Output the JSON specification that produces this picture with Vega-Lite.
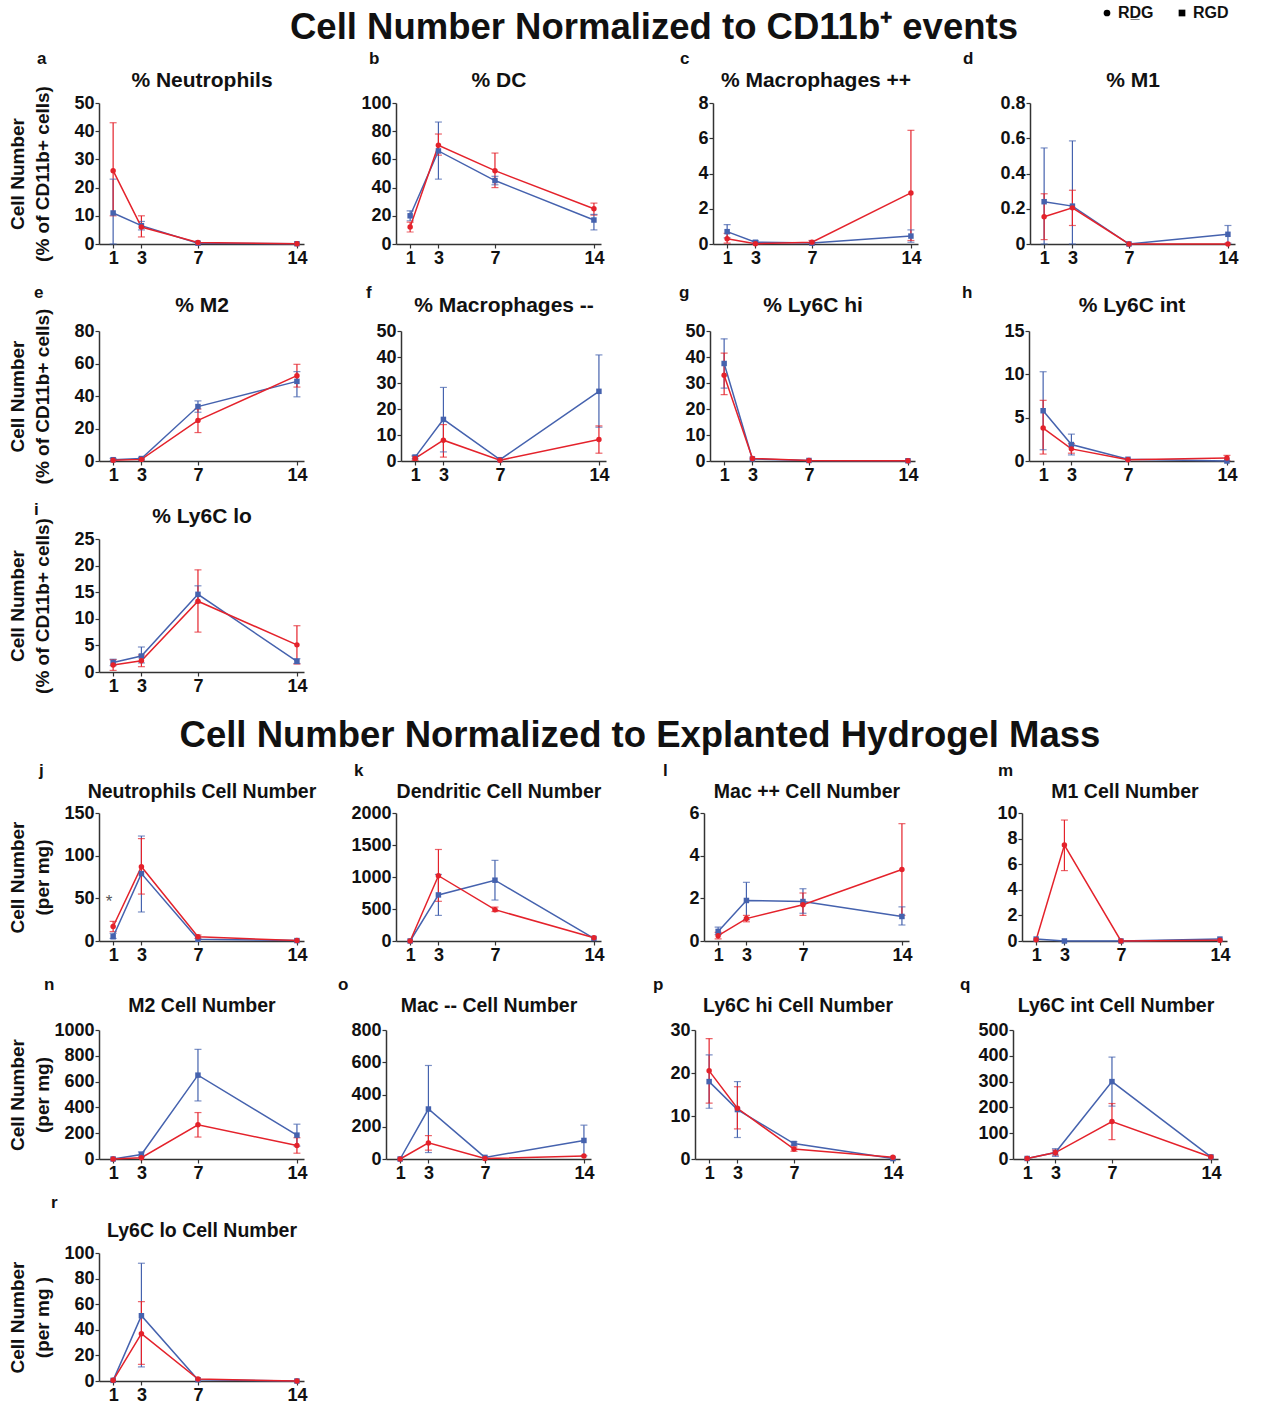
{
"$schema": "https://vega.github.io/schema/vega-lite/v6.json",
"background": "white",
"padding": {"left": 8, "top": 5, "right": 5, "bottom": 0},
"datasets": {"cells": [
{"panel":"a","group":"RGD","day":1,"mean":11,"lo":0,"hi":23},
{"panel":"a","group":"RGD","day":3,"mean":6.5,"lo":5,"hi":8},
{"panel":"a","group":"RGD","day":7,"mean":0.3,"lo":null,"hi":null},
{"panel":"a","group":"RGD","day":14,"mean":0.1,"lo":null,"hi":null},
{"panel":"a","group":"RDG","day":1,"mean":26,"lo":10,"hi":43},
{"panel":"a","group":"RDG","day":3,"mean":6,"lo":2.5,"hi":10},
{"panel":"a","group":"RDG","day":7,"mean":0.5,"lo":null,"hi":null},
{"panel":"a","group":"RDG","day":14,"mean":0.1,"lo":null,"hi":null},
{"panel":"b","group":"RGD","day":1,"mean":20,"lo":16.5,"hi":23.5},
{"panel":"b","group":"RGD","day":3,"mean":66,"lo":46,"hi":86.5},
{"panel":"b","group":"RGD","day":7,"mean":45,"lo":42,"hi":48},
{"panel":"b","group":"RGD","day":14,"mean":17,"lo":10,"hi":21},
{"panel":"b","group":"RDG","day":1,"mean":12,"lo":8.5,"hi":15.5},
{"panel":"b","group":"RDG","day":3,"mean":70,"lo":63,"hi":78},
{"panel":"b","group":"RDG","day":7,"mean":52,"lo":40,"hi":64.5},
{"panel":"b","group":"RDG","day":14,"mean":25,"lo":20.5,"hi":29},
{"panel":"c","group":"RGD","day":1,"mean":0.7,"lo":0.35,"hi":1.1},
{"panel":"c","group":"RGD","day":3,"mean":0.1,"lo":0.02,"hi":0.18},
{"panel":"c","group":"RGD","day":7,"mean":0.05,"lo":null,"hi":null},
{"panel":"c","group":"RGD","day":14,"mean":0.45,"lo":0.1,"hi":0.8},
{"panel":"c","group":"RDG","day":1,"mean":0.3,"lo":0.05,"hi":0.6},
{"panel":"c","group":"RDG","day":3,"mean":0.02,"lo":null,"hi":null},
{"panel":"c","group":"RDG","day":7,"mean":0.1,"lo":0.02,"hi":0.2},
{"panel":"c","group":"RDG","day":14,"mean":2.9,"lo":0.2,"hi":6.45},
{"panel":"d","group":"RGD","day":1,"mean":0.24,"lo":0,"hi":0.545},
{"panel":"d","group":"RGD","day":3,"mean":0.215,"lo":0,"hi":0.585},
{"panel":"d","group":"RGD","day":7,"mean":0,"lo":null,"hi":null},
{"panel":"d","group":"RGD","day":14,"mean":0.055,"lo":0.005,"hi":0.105},
{"panel":"d","group":"RDG","day":1,"mean":0.155,"lo":0.025,"hi":0.285},
{"panel":"d","group":"RDG","day":3,"mean":0.205,"lo":0.105,"hi":0.305},
{"panel":"d","group":"RDG","day":7,"mean":0,"lo":null,"hi":null},
{"panel":"d","group":"RDG","day":14,"mean":0,"lo":null,"hi":null},
{"panel":"e","group":"RGD","day":1,"mean":0.8,"lo":0.2,"hi":1.6},
{"panel":"e","group":"RGD","day":3,"mean":1.5,"lo":0.8,"hi":2.2},
{"panel":"e","group":"RGD","day":7,"mean":33.5,"lo":30,"hi":37},
{"panel":"e","group":"RGD","day":14,"mean":49,"lo":39.5,"hi":55},
{"panel":"e","group":"RDG","day":1,"mean":0.5,"lo":null,"hi":null},
{"panel":"e","group":"RDG","day":3,"mean":1,"lo":0.5,"hi":1.5},
{"panel":"e","group":"RDG","day":7,"mean":25,"lo":17.5,"hi":32},
{"panel":"e","group":"RDG","day":14,"mean":52.5,"lo":45.5,"hi":59.5},
{"panel":"f","group":"RGD","day":1,"mean":1.5,"lo":0.8,"hi":2.2},
{"panel":"f","group":"RGD","day":3,"mean":16,"lo":3.5,"hi":28.3},
{"panel":"f","group":"RGD","day":7,"mean":0.5,"lo":null,"hi":null},
{"panel":"f","group":"RGD","day":14,"mean":26.8,"lo":13,"hi":40.8},
{"panel":"f","group":"RDG","day":1,"mean":1,"lo":0.2,"hi":1.8},
{"panel":"f","group":"RDG","day":3,"mean":8,"lo":1.5,"hi":14},
{"panel":"f","group":"RDG","day":7,"mean":0.3,"lo":null,"hi":null},
{"panel":"f","group":"RDG","day":14,"mean":8.3,"lo":3,"hi":13.5},
{"panel":"g","group":"RGD","day":1,"mean":37.5,"lo":28,"hi":47},
{"panel":"g","group":"RGD","day":3,"mean":0.8,"lo":null,"hi":null},
{"panel":"g","group":"RGD","day":7,"mean":0.2,"lo":null,"hi":null},
{"panel":"g","group":"RGD","day":14,"mean":0.1,"lo":null,"hi":null},
{"panel":"g","group":"RDG","day":1,"mean":33,"lo":25.5,"hi":41.5},
{"panel":"g","group":"RDG","day":3,"mean":1,"lo":null,"hi":null},
{"panel":"g","group":"RDG","day":7,"mean":0.2,"lo":null,"hi":null},
{"panel":"g","group":"RDG","day":14,"mean":0.1,"lo":null,"hi":null},
{"panel":"h","group":"RGD","day":1,"mean":5.8,"lo":1.3,"hi":10.3},
{"panel":"h","group":"RGD","day":3,"mean":1.9,"lo":0.7,"hi":3.1},
{"panel":"h","group":"RGD","day":7,"mean":0.2,"lo":null,"hi":null},
{"panel":"h","group":"RGD","day":14,"mean":0,"lo":null,"hi":null},
{"panel":"h","group":"RDG","day":1,"mean":3.8,"lo":0.8,"hi":7},
{"panel":"h","group":"RDG","day":3,"mean":1.4,"lo":0.9,"hi":2},
{"panel":"h","group":"RDG","day":7,"mean":0.15,"lo":null,"hi":null},
{"panel":"h","group":"RDG","day":14,"mean":0.35,"lo":0.05,"hi":0.65},
{"panel":"i","group":"RGD","day":1,"mean":1.8,"lo":1.2,"hi":2.4},
{"panel":"i","group":"RGD","day":3,"mean":3,"lo":1.7,"hi":4.7},
{"panel":"i","group":"RGD","day":7,"mean":14.6,"lo":13,"hi":16.2},
{"panel":"i","group":"RGD","day":14,"mean":2,"lo":1.6,"hi":2.5},
{"panel":"i","group":"RDG","day":1,"mean":1.3,"lo":0.3,"hi":2.3},
{"panel":"i","group":"RDG","day":3,"mean":2.1,"lo":1,"hi":3.2},
{"panel":"i","group":"RDG","day":7,"mean":13.3,"lo":7.5,"hi":19.2},
{"panel":"i","group":"RDG","day":14,"mean":5.1,"lo":1.5,"hi":8.7},
{"panel":"j","group":"RGD","day":1,"mean":5,"lo":3,"hi":9},
{"panel":"j","group":"RGD","day":3,"mean":79,"lo":34,"hi":123},
{"panel":"j","group":"RGD","day":7,"mean":2,"lo":null,"hi":null},
{"panel":"j","group":"RGD","day":14,"mean":0.5,"lo":null,"hi":null},
{"panel":"j","group":"RDG","day":1,"mean":17,"lo":11,"hi":23},
{"panel":"j","group":"RDG","day":3,"mean":87,"lo":55,"hi":120},
{"panel":"j","group":"RDG","day":7,"mean":5,"lo":3,"hi":7},
{"panel":"j","group":"RDG","day":14,"mean":0.5,"lo":null,"hi":null},
{"panel":"k","group":"RGD","day":1,"mean":0,"lo":null,"hi":null},
{"panel":"k","group":"RGD","day":3,"mean":720,"lo":400,"hi":1040},
{"panel":"k","group":"RGD","day":7,"mean":950,"lo":640,"hi":1260},
{"panel":"k","group":"RGD","day":14,"mean":40,"lo":null,"hi":null},
{"panel":"k","group":"RDG","day":1,"mean":0,"lo":null,"hi":null},
{"panel":"k","group":"RDG","day":3,"mean":1020,"lo":620,"hi":1430},
{"panel":"k","group":"RDG","day":7,"mean":490,"lo":460,"hi":530},
{"panel":"k","group":"RDG","day":14,"mean":50,"lo":null,"hi":null},
{"panel":"l","group":"RGD","day":1,"mean":0.45,"lo":0.3,"hi":0.65},
{"panel":"l","group":"RGD","day":3,"mean":1.9,"lo":1.0,"hi":2.75},
{"panel":"l","group":"RGD","day":7,"mean":1.85,"lo":1.3,"hi":2.45},
{"panel":"l","group":"RGD","day":14,"mean":1.15,"lo":0.75,"hi":1.6},
{"panel":"l","group":"RDG","day":1,"mean":0.25,"lo":0.1,"hi":0.4},
{"panel":"l","group":"RDG","day":3,"mean":1.05,"lo":0.9,"hi":1.2},
{"panel":"l","group":"RDG","day":7,"mean":1.7,"lo":1.2,"hi":2.25},
{"panel":"l","group":"RDG","day":14,"mean":3.35,"lo":1.2,"hi":5.5},
{"panel":"m","group":"RGD","day":1,"mean":0.15,"lo":null,"hi":null},
{"panel":"m","group":"RGD","day":3,"mean":0,"lo":null,"hi":null},
{"panel":"m","group":"RGD","day":7,"mean":0,"lo":null,"hi":null},
{"panel":"m","group":"RGD","day":14,"mean":0.15,"lo":null,"hi":null},
{"panel":"m","group":"RDG","day":1,"mean":0.1,"lo":null,"hi":null},
{"panel":"m","group":"RDG","day":3,"mean":7.5,"lo":5.5,"hi":9.45},
{"panel":"m","group":"RDG","day":7,"mean":0,"lo":null,"hi":null},
{"panel":"m","group":"RDG","day":14,"mean":0.05,"lo":null,"hi":null},
{"panel":"n","group":"RGD","day":1,"mean":0,"lo":null,"hi":null},
{"panel":"n","group":"RGD","day":3,"mean":35,"lo":15,"hi":55},
{"panel":"n","group":"RGD","day":7,"mean":650,"lo":450,"hi":850},
{"panel":"n","group":"RGD","day":14,"mean":185,"lo":100,"hi":270},
{"panel":"n","group":"RDG","day":1,"mean":0,"lo":null,"hi":null},
{"panel":"n","group":"RDG","day":3,"mean":10,"lo":null,"hi":null},
{"panel":"n","group":"RDG","day":7,"mean":265,"lo":170,"hi":360},
{"panel":"n","group":"RDG","day":14,"mean":105,"lo":45,"hi":165},
{"panel":"o","group":"RGD","day":1,"mean":0,"lo":null,"hi":null},
{"panel":"o","group":"RGD","day":3,"mean":310,"lo":40,"hi":580},
{"panel":"o","group":"RGD","day":7,"mean":10,"lo":null,"hi":null},
{"panel":"o","group":"RGD","day":14,"mean":115,"lo":20,"hi":210},
{"panel":"o","group":"RDG","day":1,"mean":0,"lo":null,"hi":null},
{"panel":"o","group":"RDG","day":3,"mean":100,"lo":55,"hi":145},
{"panel":"o","group":"RDG","day":7,"mean":3,"lo":null,"hi":null},
{"panel":"o","group":"RDG","day":14,"mean":18,"lo":null,"hi":null},
{"panel":"p","group":"RGD","day":1,"mean":18,"lo":11.8,"hi":24.2},
{"panel":"p","group":"RGD","day":3,"mean":11.5,"lo":5,"hi":18},
{"panel":"p","group":"RGD","day":7,"mean":3.6,"lo":3.2,"hi":4},
{"panel":"p","group":"RGD","day":14,"mean":0.1,"lo":null,"hi":null},
{"panel":"p","group":"RDG","day":1,"mean":20.5,"lo":13,"hi":28},
{"panel":"p","group":"RDG","day":3,"mean":11.8,"lo":7,"hi":16.8},
{"panel":"p","group":"RDG","day":7,"mean":2.3,"lo":1.8,"hi":2.8},
{"panel":"p","group":"RDG","day":14,"mean":0.4,"lo":null,"hi":null},
{"panel":"q","group":"RGD","day":1,"mean":2,"lo":null,"hi":null},
{"panel":"q","group":"RGD","day":3,"mean":25,"lo":10,"hi":40},
{"panel":"q","group":"RGD","day":7,"mean":300,"lo":205,"hi":395},
{"panel":"q","group":"RGD","day":14,"mean":8,"lo":null,"hi":null},
{"panel":"q","group":"RDG","day":1,"mean":2,"lo":null,"hi":null},
{"panel":"q","group":"RDG","day":3,"mean":25,"lo":15,"hi":35},
{"panel":"q","group":"RDG","day":7,"mean":145,"lo":75,"hi":215},
{"panel":"q","group":"RDG","day":14,"mean":8,"lo":null,"hi":null},
{"panel":"r","group":"RGD","day":1,"mean":0.5,"lo":null,"hi":null},
{"panel":"r","group":"RGD","day":3,"mean":51,"lo":11,"hi":92},
{"panel":"r","group":"RGD","day":7,"mean":1,"lo":null,"hi":null},
{"panel":"r","group":"RGD","day":14,"mean":0,"lo":null,"hi":null},
{"panel":"r","group":"RDG","day":1,"mean":0.5,"lo":null,"hi":null},
{"panel":"r","group":"RDG","day":3,"mean":37,"lo":13,"hi":62},
{"panel":"r","group":"RDG","day":7,"mean":1.5,"lo":null,"hi":null},
{"panel":"r","group":"RDG","day":14,"mean":0,"lo":null,"hi":null}
]},
"data": {"name": "cells"},
"spacing": 22,
"vconcat": [
{
"title": {"text": "Cell Number Normalized to  CD11b⁺ events", "fontSize": 36.5, "anchor": "middle", "frame": "bounds", "dx": 31, "offset": 4},
"spacing": 17,
"vconcat": [
{"spacing": 30, "hconcat": [
{"width": 205, "height": 141, "title": {"text": "a", "dx": -62, "offset": 1},
 "transform": [{"filter": "datum.panel == 'a'"}], "resolve": {"axis": {"x": "independent"}},
 "layer": [
  {"mark": {"type": "rule", "strokeWidth": 1.2}, "encoding": {"x": {"field": "day", "type": "quantitative", "scale": {"domain": [0, 14.5], "nice": false}, "axis": null}, "y": {"field": "lo", "type": "quantitative", "scale": {"domain": [0, 50], "nice": false}}, "y2": {"field": "hi"}, "color": {"field": "group", "type": "nominal", "legend": null}}},
  {"mark": {"type": "tick", "orient": "horizontal", "size": 7, "thickness": 1.2}, "encoding": {"x": {"field": "day", "type": "quantitative", "axis": null}, "y": {"field": "lo", "type": "quantitative"}, "color": {"field": "group", "type": "nominal", "legend": null}}},
  {"mark": {"type": "tick", "orient": "horizontal", "size": 7, "thickness": 1.2}, "encoding": {"x": {"field": "day", "type": "quantitative", "axis": null}, "y": {"field": "hi", "type": "quantitative"}, "color": {"field": "group", "type": "nominal", "legend": null}}},
  {"mark": {"type": "line", "strokeWidth": 1.5},
   "encoding": {"x": {"field": "day", "type": "quantitative", "axis": {"values": [1, 3, 7, 14], "title": null}},
    "y": {"field": "mean", "type": "quantitative", "axis": {"values": [0, 10, 20, 30, 40, 50], "tickCount": 20, "format": "d", "labelOverlap": false, "title": ["Cell Number", "(% of CD11b+ cells)"], "titlePadding": 7, "minExtent": 40, "maxExtent": 40}},
    "color": {"field": "group", "type": "nominal", "legend": null}}},
  {"mark": {"type": "point", "filled": true, "size": 30, "opacity": 1},
   "encoding": {"x": {"field": "day", "type": "quantitative", "axis": {"orient": "top", "title": "%  Neutrophils", "titlePadding": 13}},
    "y": {"field": "mean", "type": "quantitative"},
    "color": {"field": "group", "type": "nominal", "legend": {"orient": "none", "legendX": 1000, "legendY": -98, "direction": "horizontal", "title": null, "labelExpr": "datum.label == 'RDG' ? 'RD\u0332G' : datum.label"}},
    "shape": {"field": "group", "type": "nominal", "legend": {"orient": "none", "legendX": 1000, "legendY": -98, "direction": "horizontal", "title": null, "labelExpr": "datum.label == 'RDG' ? 'RD\u0332G' : datum.label"}}}}
 ]},
{"width": 205, "height": 141, "title": {"text": "b", "dx": -27, "offset": 1},
 "transform": [{"filter": "datum.panel == 'b'"}], "resolve": {"axis": {"x": "independent"}},
 "layer": [
  {"mark": {"type": "rule", "strokeWidth": 1.2}, "encoding": {"x": {"field": "day", "type": "quantitative", "scale": {"domain": [0, 14.5], "nice": false}, "axis": null}, "y": {"field": "lo", "type": "quantitative", "scale": {"domain": [0, 100], "nice": false}}, "y2": {"field": "hi"}, "color": {"field": "group", "type": "nominal", "legend": null}}},
  {"mark": {"type": "tick", "orient": "horizontal", "size": 7, "thickness": 1.2}, "encoding": {"x": {"field": "day", "type": "quantitative", "axis": null}, "y": {"field": "lo", "type": "quantitative"}, "color": {"field": "group", "type": "nominal", "legend": null}}},
  {"mark": {"type": "tick", "orient": "horizontal", "size": 7, "thickness": 1.2}, "encoding": {"x": {"field": "day", "type": "quantitative", "axis": null}, "y": {"field": "hi", "type": "quantitative"}, "color": {"field": "group", "type": "nominal", "legend": null}}},
  {"mark": {"type": "line", "strokeWidth": 1.5},
   "encoding": {"x": {"field": "day", "type": "quantitative", "axis": {"values": [1, 3, 7, 14], "title": null}},
    "y": {"field": "mean", "type": "quantitative", "axis": {"values": [0, 20, 40, 60, 80, 100], "tickCount": 20, "format": "d", "labelOverlap": false, "title": null, "minExtent": 59, "maxExtent": 59}},
    "color": {"field": "group", "type": "nominal", "legend": null}}},
  {"mark": {"type": "point", "filled": true, "size": 30, "opacity": 1},
   "encoding": {"x": {"field": "day", "type": "quantitative", "axis": {"orient": "top", "title": "% DC", "titlePadding": 13}},
    "y": {"field": "mean", "type": "quantitative"},
    "color": {"field": "group", "type": "nominal", "legend": null},
    "shape": {"field": "group", "type": "nominal", "legend": null}}}
 ]},
{"width": 205, "height": 141, "title": {"text": "c", "dx": -33, "offset": 1},
 "transform": [{"filter": "datum.panel == 'c'"}], "resolve": {"axis": {"x": "independent"}},
 "layer": [
  {"mark": {"type": "rule", "strokeWidth": 1.2}, "encoding": {"x": {"field": "day", "type": "quantitative", "scale": {"domain": [0, 14.5], "nice": false}, "axis": null}, "y": {"field": "lo", "type": "quantitative", "scale": {"domain": [0, 8], "nice": false}}, "y2": {"field": "hi"}, "color": {"field": "group", "type": "nominal", "legend": null}}},
  {"mark": {"type": "tick", "orient": "horizontal", "size": 7, "thickness": 1.2}, "encoding": {"x": {"field": "day", "type": "quantitative", "axis": null}, "y": {"field": "lo", "type": "quantitative"}, "color": {"field": "group", "type": "nominal", "legend": null}}},
  {"mark": {"type": "tick", "orient": "horizontal", "size": 7, "thickness": 1.2}, "encoding": {"x": {"field": "day", "type": "quantitative", "axis": null}, "y": {"field": "hi", "type": "quantitative"}, "color": {"field": "group", "type": "nominal", "legend": null}}},
  {"mark": {"type": "line", "strokeWidth": 1.5},
   "encoding": {"x": {"field": "day", "type": "quantitative", "axis": {"values": [1, 3, 7, 14], "title": null}},
    "y": {"field": "mean", "type": "quantitative", "axis": {"values": [0, 2, 4, 6, 8], "tickCount": 20, "format": "d", "labelOverlap": false, "title": null, "minExtent": 79, "maxExtent": 79}},
    "color": {"field": "group", "type": "nominal", "legend": null}}},
  {"mark": {"type": "point", "filled": true, "size": 30, "opacity": 1},
   "encoding": {"x": {"field": "day", "type": "quantitative", "axis": {"orient": "top", "title": "% Macrophages ++", "titlePadding": 13}},
    "y": {"field": "mean", "type": "quantitative"},
    "color": {"field": "group", "type": "nominal", "legend": null},
    "shape": {"field": "group", "type": "nominal", "legend": null}}}
 ]},
{"width": 205, "height": 141, "title": {"text": "d", "dx": -67, "offset": 1},
 "transform": [{"filter": "datum.panel == 'd'"}], "resolve": {"axis": {"x": "independent"}},
 "layer": [
  {"mark": {"type": "rule", "strokeWidth": 1.2}, "encoding": {"x": {"field": "day", "type": "quantitative", "scale": {"domain": [0, 14.5], "nice": false}, "axis": null}, "y": {"field": "lo", "type": "quantitative", "scale": {"domain": [0, 0.8], "nice": false}}, "y2": {"field": "hi"}, "color": {"field": "group", "type": "nominal", "legend": null}}},
  {"mark": {"type": "tick", "orient": "horizontal", "size": 7, "thickness": 1.2}, "encoding": {"x": {"field": "day", "type": "quantitative", "axis": null}, "y": {"field": "lo", "type": "quantitative"}, "color": {"field": "group", "type": "nominal", "legend": null}}},
  {"mark": {"type": "tick", "orient": "horizontal", "size": 7, "thickness": 1.2}, "encoding": {"x": {"field": "day", "type": "quantitative", "axis": null}, "y": {"field": "hi", "type": "quantitative"}, "color": {"field": "group", "type": "nominal", "legend": null}}},
  {"mark": {"type": "line", "strokeWidth": 1.5},
   "encoding": {"x": {"field": "day", "type": "quantitative", "axis": {"values": [1, 3, 7, 14], "title": null}},
    "y": {"field": "mean", "type": "quantitative", "axis": {"values": [0, 0.2, 0.4, 0.6, 0.8], "tickCount": 20, "format": ".1~f", "labelOverlap": false, "title": null, "minExtent": 79, "maxExtent": 79}},
    "color": {"field": "group", "type": "nominal", "legend": null}}},
  {"mark": {"type": "point", "filled": true, "size": 30, "opacity": 1},
   "encoding": {"x": {"field": "day", "type": "quantitative", "axis": {"orient": "top", "title": "% M1", "titlePadding": 13}},
    "y": {"field": "mean", "type": "quantitative"},
    "color": {"field": "group", "type": "nominal", "legend": null},
    "shape": {"field": "group", "type": "nominal", "legend": null}}}
 ]}
]},
{"spacing": 30, "hconcat": [
{"width": 205, "height": 130, "title": {"text": "e", "dx": -65, "offset": -8},
 "transform": [{"filter": "datum.panel == 'e'"}], "resolve": {"axis": {"x": "independent"}},
 "layer": [
  {"mark": {"type": "rule", "strokeWidth": 1.2}, "encoding": {"x": {"field": "day", "type": "quantitative", "scale": {"domain": [0, 14.5], "nice": false}, "axis": null}, "y": {"field": "lo", "type": "quantitative", "scale": {"domain": [0, 80], "nice": false}}, "y2": {"field": "hi"}, "color": {"field": "group", "type": "nominal", "legend": null}}},
  {"mark": {"type": "tick", "orient": "horizontal", "size": 7, "thickness": 1.2}, "encoding": {"x": {"field": "day", "type": "quantitative", "axis": null}, "y": {"field": "lo", "type": "quantitative"}, "color": {"field": "group", "type": "nominal", "legend": null}}},
  {"mark": {"type": "tick", "orient": "horizontal", "size": 7, "thickness": 1.2}, "encoding": {"x": {"field": "day", "type": "quantitative", "axis": null}, "y": {"field": "hi", "type": "quantitative"}, "color": {"field": "group", "type": "nominal", "legend": null}}},
  {"mark": {"type": "line", "strokeWidth": 1.5},
   "encoding": {"x": {"field": "day", "type": "quantitative", "axis": {"values": [1, 3, 7, 14], "title": null}},
    "y": {"field": "mean", "type": "quantitative", "axis": {"values": [0, 20, 40, 60, 80], "tickCount": 20, "format": "d", "labelOverlap": false, "title": ["Cell Number", "(% of CD11b+ cells)"], "titlePadding": 7, "minExtent": 40, "maxExtent": 40}},
    "color": {"field": "group", "type": "nominal", "legend": null}}},
  {"mark": {"type": "point", "filled": true, "size": 30, "opacity": 1},
   "encoding": {"x": {"field": "day", "type": "quantitative", "axis": {"orient": "top", "title": "% M2", "titlePadding": 16}},
    "y": {"field": "mean", "type": "quantitative"},
    "color": {"field": "group", "type": "nominal", "legend": null},
    "shape": {"field": "group", "type": "nominal", "legend": null}}}
 ]},
{"width": 205, "height": 130, "title": {"text": "f", "dx": -35, "offset": -8},
 "transform": [{"filter": "datum.panel == 'f'"}], "resolve": {"axis": {"x": "independent"}},
 "layer": [
  {"mark": {"type": "rule", "strokeWidth": 1.2}, "encoding": {"x": {"field": "day", "type": "quantitative", "scale": {"domain": [0, 14.5], "nice": false}, "axis": null}, "y": {"field": "lo", "type": "quantitative", "scale": {"domain": [0, 50], "nice": false}}, "y2": {"field": "hi"}, "color": {"field": "group", "type": "nominal", "legend": null}}},
  {"mark": {"type": "tick", "orient": "horizontal", "size": 7, "thickness": 1.2}, "encoding": {"x": {"field": "day", "type": "quantitative", "axis": null}, "y": {"field": "lo", "type": "quantitative"}, "color": {"field": "group", "type": "nominal", "legend": null}}},
  {"mark": {"type": "tick", "orient": "horizontal", "size": 7, "thickness": 1.2}, "encoding": {"x": {"field": "day", "type": "quantitative", "axis": null}, "y": {"field": "hi", "type": "quantitative"}, "color": {"field": "group", "type": "nominal", "legend": null}}},
  {"mark": {"type": "line", "strokeWidth": 1.5},
   "encoding": {"x": {"field": "day", "type": "quantitative", "axis": {"values": [1, 3, 7, 14], "title": null}},
    "y": {"field": "mean", "type": "quantitative", "axis": {"values": [0, 10, 20, 30, 40, 50], "tickCount": 20, "format": "d", "labelOverlap": false, "title": null, "minExtent": 64, "maxExtent": 64}},
    "color": {"field": "group", "type": "nominal", "legend": null}}},
  {"mark": {"type": "point", "filled": true, "size": 30, "opacity": 1},
   "encoding": {"x": {"field": "day", "type": "quantitative", "axis": {"orient": "top", "title": "% Macrophages --", "titlePadding": 16}},
    "y": {"field": "mean", "type": "quantitative"},
    "color": {"field": "group", "type": "nominal", "legend": null},
    "shape": {"field": "group", "type": "nominal", "legend": null}}}
 ]},
{"width": 205, "height": 130, "title": {"text": "g", "dx": -31, "offset": -8},
 "transform": [{"filter": "datum.panel == 'g'"}], "resolve": {"axis": {"x": "independent"}},
 "layer": [
  {"mark": {"type": "rule", "strokeWidth": 1.2}, "encoding": {"x": {"field": "day", "type": "quantitative", "scale": {"domain": [0, 14.5], "nice": false}, "axis": null}, "y": {"field": "lo", "type": "quantitative", "scale": {"domain": [0, 50], "nice": false}}, "y2": {"field": "hi"}, "color": {"field": "group", "type": "nominal", "legend": null}}},
  {"mark": {"type": "tick", "orient": "horizontal", "size": 7, "thickness": 1.2}, "encoding": {"x": {"field": "day", "type": "quantitative", "axis": null}, "y": {"field": "lo", "type": "quantitative"}, "color": {"field": "group", "type": "nominal", "legend": null}}},
  {"mark": {"type": "tick", "orient": "horizontal", "size": 7, "thickness": 1.2}, "encoding": {"x": {"field": "day", "type": "quantitative", "axis": null}, "y": {"field": "hi", "type": "quantitative"}, "color": {"field": "group", "type": "nominal", "legend": null}}},
  {"mark": {"type": "line", "strokeWidth": 1.5},
   "encoding": {"x": {"field": "day", "type": "quantitative", "axis": {"values": [1, 3, 7, 14], "title": null}},
    "y": {"field": "mean", "type": "quantitative", "axis": {"values": [0, 10, 20, 30, 40, 50], "tickCount": 20, "format": "d", "labelOverlap": false, "title": null, "minExtent": 71, "maxExtent": 71}},
    "color": {"field": "group", "type": "nominal", "legend": null}}},
  {"mark": {"type": "point", "filled": true, "size": 30, "opacity": 1},
   "encoding": {"x": {"field": "day", "type": "quantitative", "axis": {"orient": "top", "title": "% Ly6C hi", "titlePadding": 16}},
    "y": {"field": "mean", "type": "quantitative"},
    "color": {"field": "group", "type": "nominal", "legend": null},
    "shape": {"field": "group", "type": "nominal", "legend": null}}}
 ]},
{"width": 205, "height": 130, "title": {"text": "h", "dx": -67, "offset": -8},
 "transform": [{"filter": "datum.panel == 'h'"}], "resolve": {"axis": {"x": "independent"}},
 "layer": [
  {"mark": {"type": "rule", "strokeWidth": 1.2}, "encoding": {"x": {"field": "day", "type": "quantitative", "scale": {"domain": [0, 14.5], "nice": false}, "axis": null}, "y": {"field": "lo", "type": "quantitative", "scale": {"domain": [0, 15], "nice": false}}, "y2": {"field": "hi"}, "color": {"field": "group", "type": "nominal", "legend": null}}},
  {"mark": {"type": "tick", "orient": "horizontal", "size": 7, "thickness": 1.2}, "encoding": {"x": {"field": "day", "type": "quantitative", "axis": null}, "y": {"field": "lo", "type": "quantitative"}, "color": {"field": "group", "type": "nominal", "legend": null}}},
  {"mark": {"type": "tick", "orient": "horizontal", "size": 7, "thickness": 1.2}, "encoding": {"x": {"field": "day", "type": "quantitative", "axis": null}, "y": {"field": "hi", "type": "quantitative"}, "color": {"field": "group", "type": "nominal", "legend": null}}},
  {"mark": {"type": "line", "strokeWidth": 1.5},
   "encoding": {"x": {"field": "day", "type": "quantitative", "axis": {"values": [1, 3, 7, 14], "title": null}},
    "y": {"field": "mean", "type": "quantitative", "axis": {"values": [0, 5, 10, 15], "tickCount": 20, "format": "d", "labelOverlap": false, "title": null, "minExtent": 81, "maxExtent": 81}},
    "color": {"field": "group", "type": "nominal", "legend": null}}},
  {"mark": {"type": "point", "filled": true, "size": 30, "opacity": 1},
   "encoding": {"x": {"field": "day", "type": "quantitative", "axis": {"orient": "top", "title": "% Ly6C int", "titlePadding": 16}},
    "y": {"field": "mean", "type": "quantitative"},
    "color": {"field": "group", "type": "nominal", "legend": null},
    "shape": {"field": "group", "type": "nominal", "legend": null}}}
 ]}
]},
{"width": 205, "height": 133, "title": {"text": "i", "dx": -65, "offset": -14},
 "transform": [{"filter": "datum.panel == 'i'"}], "resolve": {"axis": {"x": "independent"}},
 "layer": [
  {"mark": {"type": "rule", "strokeWidth": 1.2}, "encoding": {"x": {"field": "day", "type": "quantitative", "scale": {"domain": [0, 14.5], "nice": false}, "axis": null}, "y": {"field": "lo", "type": "quantitative", "scale": {"domain": [0, 25], "nice": false}}, "y2": {"field": "hi"}, "color": {"field": "group", "type": "nominal", "legend": null}}},
  {"mark": {"type": "tick", "orient": "horizontal", "size": 7, "thickness": 1.2}, "encoding": {"x": {"field": "day", "type": "quantitative", "axis": null}, "y": {"field": "lo", "type": "quantitative"}, "color": {"field": "group", "type": "nominal", "legend": null}}},
  {"mark": {"type": "tick", "orient": "horizontal", "size": 7, "thickness": 1.2}, "encoding": {"x": {"field": "day", "type": "quantitative", "axis": null}, "y": {"field": "hi", "type": "quantitative"}, "color": {"field": "group", "type": "nominal", "legend": null}}},
  {"mark": {"type": "line", "strokeWidth": 1.5},
   "encoding": {"x": {"field": "day", "type": "quantitative", "axis": {"values": [1, 3, 7, 14], "title": null}},
    "y": {"field": "mean", "type": "quantitative", "axis": {"values": [0, 5, 10, 15, 20, 25], "tickCount": 20, "format": "d", "labelOverlap": false, "title": ["Cell Number", "(% of CD11b+ cells)"], "titlePadding": 7, "minExtent": 40, "maxExtent": 40}},
    "color": {"field": "group", "type": "nominal", "legend": null}}},
  {"mark": {"type": "point", "filled": true, "size": 30, "opacity": 1},
   "encoding": {"x": {"field": "day", "type": "quantitative", "axis": {"orient": "top", "title": "% Ly6C lo", "titlePadding": 13}},
    "y": {"field": "mean", "type": "quantitative"},
    "color": {"field": "group", "type": "nominal", "legend": null},
    "shape": {"field": "group", "type": "nominal", "legend": null}}}
 ]}
]
},
{
"title": {"text": "Cell Number Normalized to Explanted Hydrogel Mass", "fontSize": 36.5, "anchor": "middle", "frame": "bounds", "dx": 21, "offset": 8},
"spacing": 12,
"vconcat": [
{"spacing": 30, "hconcat": [
{"width": 205, "height": 128, "title": {"text": "j", "dx": -60, "offset": 1},
 "transform": [{"filter": "datum.panel == 'j'"}], "resolve": {"axis": {"x": "independent"}},
 "layer": [
  {"mark": {"type": "rule", "strokeWidth": 1.2}, "encoding": {"x": {"field": "day", "type": "quantitative", "scale": {"domain": [0, 14.5], "nice": false}, "axis": null}, "y": {"field": "lo", "type": "quantitative", "scale": {"domain": [0, 150], "nice": false}}, "y2": {"field": "hi"}, "color": {"field": "group", "type": "nominal", "legend": null}}},
  {"mark": {"type": "tick", "orient": "horizontal", "size": 7, "thickness": 1.2}, "encoding": {"x": {"field": "day", "type": "quantitative", "axis": null}, "y": {"field": "lo", "type": "quantitative"}, "color": {"field": "group", "type": "nominal", "legend": null}}},
  {"mark": {"type": "tick", "orient": "horizontal", "size": 7, "thickness": 1.2}, "encoding": {"x": {"field": "day", "type": "quantitative", "axis": null}, "y": {"field": "hi", "type": "quantitative"}, "color": {"field": "group", "type": "nominal", "legend": null}}},
  {"mark": {"type": "line", "strokeWidth": 1.5},
   "encoding": {"x": {"field": "day", "type": "quantitative", "axis": {"values": [1, 3, 7, 14], "title": null}},
    "y": {"field": "mean", "type": "quantitative", "axis": {"values": [0, 50, 100, 150], "tickCount": 20, "format": "d", "labelOverlap": false, "title": ["Cell Number", "(per mg)"], "titlePadding": 7, "minExtent": 40, "maxExtent": 40}},
    "color": {"field": "group", "type": "nominal", "legend": null}}},
  {"mark": {"type": "point", "filled": true, "size": 30, "opacity": 1},
   "encoding": {"x": {"field": "day", "type": "quantitative", "axis": {"orient": "top", "title": "Neutrophils Cell Number", "titlePadding": 12, "titleFontSize": 19.5}},
    "y": {"field": "mean", "type": "quantitative"},
    "color": {"field": "group", "type": "nominal", "legend": null},
    "shape": {"field": "group", "type": "nominal", "legend": null}}},
  {"data": {"values": [{"panel": "j", "day": 1, "mean": 46, "note": "*"}]},
   "mark": {"type": "text", "dx": -4, "fontSize": 17, "fontWeight": "normal", "color": "#555"},
   "encoding": {"x": {"field": "day", "type": "quantitative", "axis": null},
    "y": {"field": "mean", "type": "quantitative"},
    "text": {"field": "note"}}}
 ]},
{"width": 205, "height": 128, "title": {"text": "k", "dx": -42, "offset": 1},
 "transform": [{"filter": "datum.panel == 'k'"}], "resolve": {"axis": {"x": "independent"}},
 "layer": [
  {"mark": {"type": "rule", "strokeWidth": 1.2}, "encoding": {"x": {"field": "day", "type": "quantitative", "scale": {"domain": [0, 14.5], "nice": false}, "axis": null}, "y": {"field": "lo", "type": "quantitative", "scale": {"domain": [0, 2000], "nice": false}}, "y2": {"field": "hi"}, "color": {"field": "group", "type": "nominal", "legend": null}}},
  {"mark": {"type": "tick", "orient": "horizontal", "size": 7, "thickness": 1.2}, "encoding": {"x": {"field": "day", "type": "quantitative", "axis": null}, "y": {"field": "lo", "type": "quantitative"}, "color": {"field": "group", "type": "nominal", "legend": null}}},
  {"mark": {"type": "tick", "orient": "horizontal", "size": 7, "thickness": 1.2}, "encoding": {"x": {"field": "day", "type": "quantitative", "axis": null}, "y": {"field": "hi", "type": "quantitative"}, "color": {"field": "group", "type": "nominal", "legend": null}}},
  {"mark": {"type": "line", "strokeWidth": 1.5},
   "encoding": {"x": {"field": "day", "type": "quantitative", "axis": {"values": [1, 3, 7, 14], "title": null}},
    "y": {"field": "mean", "type": "quantitative", "axis": {"values": [0, 500, 1000, 1500, 2000], "tickCount": 20, "format": "d", "labelOverlap": false, "title": null, "minExtent": 50, "maxExtent": 50}},
    "color": {"field": "group", "type": "nominal", "legend": null}}},
  {"mark": {"type": "point", "filled": true, "size": 30, "opacity": 1},
   "encoding": {"x": {"field": "day", "type": "quantitative", "axis": {"orient": "top", "title": "Dendritic Cell Number", "titlePadding": 12, "titleFontSize": 19.5}},
    "y": {"field": "mean", "type": "quantitative"},
    "color": {"field": "group", "type": "nominal", "legend": null},
    "shape": {"field": "group", "type": "nominal", "legend": null}}}
 ]},
{"width": 205, "height": 128, "title": {"text": "l", "dx": -41, "offset": 1},
 "transform": [{"filter": "datum.panel == 'l'"}], "resolve": {"axis": {"x": "independent"}},
 "layer": [
  {"mark": {"type": "rule", "strokeWidth": 1.2}, "encoding": {"x": {"field": "day", "type": "quantitative", "scale": {"domain": [0, 14.5], "nice": false}, "axis": null}, "y": {"field": "lo", "type": "quantitative", "scale": {"domain": [0, 6], "nice": false}}, "y2": {"field": "hi"}, "color": {"field": "group", "type": "nominal", "legend": null}}},
  {"mark": {"type": "tick", "orient": "horizontal", "size": 7, "thickness": 1.2}, "encoding": {"x": {"field": "day", "type": "quantitative", "axis": null}, "y": {"field": "lo", "type": "quantitative"}, "color": {"field": "group", "type": "nominal", "legend": null}}},
  {"mark": {"type": "tick", "orient": "horizontal", "size": 7, "thickness": 1.2}, "encoding": {"x": {"field": "day", "type": "quantitative", "axis": null}, "y": {"field": "hi", "type": "quantitative"}, "color": {"field": "group", "type": "nominal", "legend": null}}},
  {"mark": {"type": "line", "strokeWidth": 1.5},
   "encoding": {"x": {"field": "day", "type": "quantitative", "axis": {"values": [1, 3, 7, 14], "title": null}},
    "y": {"field": "mean", "type": "quantitative", "axis": {"values": [0, 2, 4, 6], "tickCount": 20, "format": "d", "labelOverlap": false, "title": null, "minExtent": 70, "maxExtent": 70}},
    "color": {"field": "group", "type": "nominal", "legend": null}}},
  {"mark": {"type": "point", "filled": true, "size": 30, "opacity": 1},
   "encoding": {"x": {"field": "day", "type": "quantitative", "axis": {"orient": "top", "title": "Mac ++ Cell Number", "titlePadding": 12, "titleFontSize": 19.5}},
    "y": {"field": "mean", "type": "quantitative"},
    "color": {"field": "group", "type": "nominal", "legend": null},
    "shape": {"field": "group", "type": "nominal", "legend": null}}}
 ]},
{"width": 205, "height": 128, "title": {"text": "m", "dx": -24, "offset": 1},
 "transform": [{"filter": "datum.panel == 'm'"}], "resolve": {"axis": {"x": "independent"}},
 "layer": [
  {"mark": {"type": "rule", "strokeWidth": 1.2}, "encoding": {"x": {"field": "day", "type": "quantitative", "scale": {"domain": [0, 14.5], "nice": false}, "axis": null}, "y": {"field": "lo", "type": "quantitative", "scale": {"domain": [0, 10], "nice": false}}, "y2": {"field": "hi"}, "color": {"field": "group", "type": "nominal", "legend": null}}},
  {"mark": {"type": "tick", "orient": "horizontal", "size": 7, "thickness": 1.2}, "encoding": {"x": {"field": "day", "type": "quantitative", "axis": null}, "y": {"field": "lo", "type": "quantitative"}, "color": {"field": "group", "type": "nominal", "legend": null}}},
  {"mark": {"type": "tick", "orient": "horizontal", "size": 7, "thickness": 1.2}, "encoding": {"x": {"field": "day", "type": "quantitative", "axis": null}, "y": {"field": "hi", "type": "quantitative"}, "color": {"field": "group", "type": "nominal", "legend": null}}},
  {"mark": {"type": "line", "strokeWidth": 1.5},
   "encoding": {"x": {"field": "day", "type": "quantitative", "axis": {"values": [1, 3, 7, 14], "title": null}},
    "y": {"field": "mean", "type": "quantitative", "axis": {"values": [0, 2, 4, 6, 8, 10], "tickCount": 20, "format": "d", "labelOverlap": false, "title": null, "minExtent": 80, "maxExtent": 80}},
    "color": {"field": "group", "type": "nominal", "legend": null}}},
  {"mark": {"type": "point", "filled": true, "size": 30, "opacity": 1},
   "encoding": {"x": {"field": "day", "type": "quantitative", "axis": {"orient": "top", "title": "M1 Cell  Number", "titlePadding": 12, "titleFontSize": 19.5}},
    "y": {"field": "mean", "type": "quantitative"},
    "color": {"field": "group", "type": "nominal", "legend": null},
    "shape": {"field": "group", "type": "nominal", "legend": null}}}
 ]}
]},
{"spacing": 30, "hconcat": [
{"width": 205, "height": 129, "title": {"text": "n", "dx": -55, "offset": 1},
 "transform": [{"filter": "datum.panel == 'n'"}], "resolve": {"axis": {"x": "independent"}},
 "layer": [
  {"mark": {"type": "rule", "strokeWidth": 1.2}, "encoding": {"x": {"field": "day", "type": "quantitative", "scale": {"domain": [0, 14.5], "nice": false}, "axis": null}, "y": {"field": "lo", "type": "quantitative", "scale": {"domain": [0, 1000], "nice": false}}, "y2": {"field": "hi"}, "color": {"field": "group", "type": "nominal", "legend": null}}},
  {"mark": {"type": "tick", "orient": "horizontal", "size": 7, "thickness": 1.2}, "encoding": {"x": {"field": "day", "type": "quantitative", "axis": null}, "y": {"field": "lo", "type": "quantitative"}, "color": {"field": "group", "type": "nominal", "legend": null}}},
  {"mark": {"type": "tick", "orient": "horizontal", "size": 7, "thickness": 1.2}, "encoding": {"x": {"field": "day", "type": "quantitative", "axis": null}, "y": {"field": "hi", "type": "quantitative"}, "color": {"field": "group", "type": "nominal", "legend": null}}},
  {"mark": {"type": "line", "strokeWidth": 1.5},
   "encoding": {"x": {"field": "day", "type": "quantitative", "axis": {"values": [1, 3, 7, 14], "title": null}},
    "y": {"field": "mean", "type": "quantitative", "axis": {"values": [0, 200, 400, 600, 800, 1000], "tickCount": 20, "format": "d", "labelOverlap": false, "title": ["Cell Number", "(per mg)"], "titlePadding": 7, "minExtent": 40, "maxExtent": 40}},
    "color": {"field": "group", "type": "nominal", "legend": null}}},
  {"mark": {"type": "point", "filled": true, "size": 30, "opacity": 1},
   "encoding": {"x": {"field": "day", "type": "quantitative", "axis": {"orient": "top", "title": "M2 Cell  Number", "titlePadding": 15, "titleFontSize": 19.5}},
    "y": {"field": "mean", "type": "quantitative"},
    "color": {"field": "group", "type": "nominal", "legend": null},
    "shape": {"field": "group", "type": "nominal", "legend": null}}}
 ]},
{"width": 205, "height": 129, "title": {"text": "o", "dx": -48, "offset": 1},
 "transform": [{"filter": "datum.panel == 'o'"}], "resolve": {"axis": {"x": "independent"}},
 "layer": [
  {"mark": {"type": "rule", "strokeWidth": 1.2}, "encoding": {"x": {"field": "day", "type": "quantitative", "scale": {"domain": [0, 14.5], "nice": false}, "axis": null}, "y": {"field": "lo", "type": "quantitative", "scale": {"domain": [0, 800], "nice": false}}, "y2": {"field": "hi"}, "color": {"field": "group", "type": "nominal", "legend": null}}},
  {"mark": {"type": "tick", "orient": "horizontal", "size": 7, "thickness": 1.2}, "encoding": {"x": {"field": "day", "type": "quantitative", "axis": null}, "y": {"field": "lo", "type": "quantitative"}, "color": {"field": "group", "type": "nominal", "legend": null}}},
  {"mark": {"type": "tick", "orient": "horizontal", "size": 7, "thickness": 1.2}, "encoding": {"x": {"field": "day", "type": "quantitative", "axis": null}, "y": {"field": "hi", "type": "quantitative"}, "color": {"field": "group", "type": "nominal", "legend": null}}},
  {"mark": {"type": "line", "strokeWidth": 1.5},
   "encoding": {"x": {"field": "day", "type": "quantitative", "axis": {"values": [1, 3, 7, 14], "title": null}},
    "y": {"field": "mean", "type": "quantitative", "axis": {"values": [0, 200, 400, 600, 800], "tickCount": 20, "format": "d", "labelOverlap": false, "title": null, "minExtent": 49, "maxExtent": 49}},
    "color": {"field": "group", "type": "nominal", "legend": null}}},
  {"mark": {"type": "point", "filled": true, "size": 30, "opacity": 1},
   "encoding": {"x": {"field": "day", "type": "quantitative", "axis": {"orient": "top", "title": "Mac -- Cell Number", "titlePadding": 15, "titleFontSize": 19.5}},
    "y": {"field": "mean", "type": "quantitative"},
    "color": {"field": "group", "type": "nominal", "legend": null},
    "shape": {"field": "group", "type": "nominal", "legend": null}}}
 ]},
{"width": 205, "height": 129, "title": {"text": "p", "dx": -42, "offset": 1},
 "transform": [{"filter": "datum.panel == 'p'"}], "resolve": {"axis": {"x": "independent"}},
 "layer": [
  {"mark": {"type": "rule", "strokeWidth": 1.2}, "encoding": {"x": {"field": "day", "type": "quantitative", "scale": {"domain": [0, 14.5], "nice": false}, "axis": null}, "y": {"field": "lo", "type": "quantitative", "scale": {"domain": [0, 30], "nice": false}}, "y2": {"field": "hi"}, "color": {"field": "group", "type": "nominal", "legend": null}}},
  {"mark": {"type": "tick", "orient": "horizontal", "size": 7, "thickness": 1.2}, "encoding": {"x": {"field": "day", "type": "quantitative", "axis": null}, "y": {"field": "lo", "type": "quantitative"}, "color": {"field": "group", "type": "nominal", "legend": null}}},
  {"mark": {"type": "tick", "orient": "horizontal", "size": 7, "thickness": 1.2}, "encoding": {"x": {"field": "day", "type": "quantitative", "axis": null}, "y": {"field": "hi", "type": "quantitative"}, "color": {"field": "group", "type": "nominal", "legend": null}}},
  {"mark": {"type": "line", "strokeWidth": 1.5},
   "encoding": {"x": {"field": "day", "type": "quantitative", "axis": {"values": [1, 3, 7, 14], "title": null}},
    "y": {"field": "mean", "type": "quantitative", "axis": {"values": [0, 10, 20, 30], "tickCount": 20, "format": "d", "labelOverlap": false, "title": null, "minExtent": 71, "maxExtent": 71}},
    "color": {"field": "group", "type": "nominal", "legend": null}}},
  {"mark": {"type": "point", "filled": true, "size": 30, "opacity": 1},
   "encoding": {"x": {"field": "day", "type": "quantitative", "axis": {"orient": "top", "title": "Ly6C hi Cell Number", "titlePadding": 15, "titleFontSize": 19.5}},
    "y": {"field": "mean", "type": "quantitative"},
    "color": {"field": "group", "type": "nominal", "legend": null},
    "shape": {"field": "group", "type": "nominal", "legend": null}}}
 ]},
{"width": 205, "height": 129, "title": {"text": "q", "dx": -53, "offset": 1},
 "transform": [{"filter": "datum.panel == 'q'"}], "resolve": {"axis": {"x": "independent"}},
 "layer": [
  {"mark": {"type": "rule", "strokeWidth": 1.2}, "encoding": {"x": {"field": "day", "type": "quantitative", "scale": {"domain": [0, 14.5], "nice": false}, "axis": null}, "y": {"field": "lo", "type": "quantitative", "scale": {"domain": [0, 500], "nice": false}}, "y2": {"field": "hi"}, "color": {"field": "group", "type": "nominal", "legend": null}}},
  {"mark": {"type": "tick", "orient": "horizontal", "size": 7, "thickness": 1.2}, "encoding": {"x": {"field": "day", "type": "quantitative", "axis": null}, "y": {"field": "lo", "type": "quantitative"}, "color": {"field": "group", "type": "nominal", "legend": null}}},
  {"mark": {"type": "tick", "orient": "horizontal", "size": 7, "thickness": 1.2}, "encoding": {"x": {"field": "day", "type": "quantitative", "axis": null}, "y": {"field": "hi", "type": "quantitative"}, "color": {"field": "group", "type": "nominal", "legend": null}}},
  {"mark": {"type": "line", "strokeWidth": 1.5},
   "encoding": {"x": {"field": "day", "type": "quantitative", "axis": {"values": [1, 3, 7, 14], "title": null}},
    "y": {"field": "mean", "type": "quantitative", "axis": {"values": [0, 100, 200, 300, 400, 500], "tickCount": 20, "format": "d", "labelOverlap": false, "title": null, "minExtent": 80, "maxExtent": 80}},
    "color": {"field": "group", "type": "nominal", "legend": null}}},
  {"mark": {"type": "point", "filled": true, "size": 30, "opacity": 1},
   "encoding": {"x": {"field": "day", "type": "quantitative", "axis": {"orient": "top", "title": "Ly6C int Cell Number", "titlePadding": 15, "titleFontSize": 19.5}},
    "y": {"field": "mean", "type": "quantitative"},
    "color": {"field": "group", "type": "nominal", "legend": null},
    "shape": {"field": "group", "type": "nominal", "legend": null}}}
 ]}
]},
{"width": 205, "height": 128, "title": {"text": "r", "dx": -48, "offset": 8},
 "transform": [{"filter": "datum.panel == 'r'"}], "resolve": {"axis": {"x": "independent"}},
 "layer": [
  {"mark": {"type": "rule", "strokeWidth": 1.2}, "encoding": {"x": {"field": "day", "type": "quantitative", "scale": {"domain": [0, 14.5], "nice": false}, "axis": null}, "y": {"field": "lo", "type": "quantitative", "scale": {"domain": [0, 100], "nice": false}}, "y2": {"field": "hi"}, "color": {"field": "group", "type": "nominal", "legend": null}}},
  {"mark": {"type": "tick", "orient": "horizontal", "size": 7, "thickness": 1.2}, "encoding": {"x": {"field": "day", "type": "quantitative", "axis": null}, "y": {"field": "lo", "type": "quantitative"}, "color": {"field": "group", "type": "nominal", "legend": null}}},
  {"mark": {"type": "tick", "orient": "horizontal", "size": 7, "thickness": 1.2}, "encoding": {"x": {"field": "day", "type": "quantitative", "axis": null}, "y": {"field": "hi", "type": "quantitative"}, "color": {"field": "group", "type": "nominal", "legend": null}}},
  {"mark": {"type": "line", "strokeWidth": 1.5},
   "encoding": {"x": {"field": "day", "type": "quantitative", "axis": {"values": [1, 3, 7, 14], "title": null}},
    "y": {"field": "mean", "type": "quantitative", "axis": {"values": [0, 20, 40, 60, 80, 100], "tickCount": 20, "format": "d", "labelOverlap": false, "title": ["Cell Number", "(per mg )"], "titlePadding": 7, "minExtent": 40, "maxExtent": 40}},
    "color": {"field": "group", "type": "nominal", "legend": null}}},
  {"mark": {"type": "point", "filled": true, "size": 30, "opacity": 1},
   "encoding": {"x": {"field": "day", "type": "quantitative", "axis": {"orient": "top", "title": "Ly6C lo Cell Number", "titlePadding": 13, "titleFontSize": 19.5}},
    "y": {"field": "mean", "type": "quantitative"},
    "color": {"field": "group", "type": "nominal", "legend": null},
    "shape": {"field": "group", "type": "nominal", "legend": null}}}
 ]}
]
}
],
"config": {
 "font": "Liberation Sans",
 "view": {"stroke": null},
 "range": {"category": ["#e4222b", "#4562ae"], "shape": ["circle", "square"]},
 "axis": {"grid": false, "labelFontSize": 18, "labelFontWeight": "bold", "labelColor": "#111", "labelFlush": false, "labelOverlap": false, "labelPadding": 1, "domainColor": "#333", "domainWidth": 1.5, "tickColor": "#333", "tickWidth": 1.2, "tickSize": 4, "titleFontSize": 19, "titleFontWeight": "bold", "titleColor": "#111"},
 "axisLeft": {"titleLineHeight": 25},
 "axisBottom": {"minExtent": 23, "maxExtent": 23},
 "axisTop": {"labels": false, "ticks": false, "domain": false, "titleFontSize": 21},
 "title": {"fontSize": 17, "fontWeight": "bold", "color": "#111", "anchor": "start", "frame": "group"},
 "legend": {"labelFontSize": 16, "labelFontWeight": "bold", "labelColor": "#111", "symbolSize": 45, "columnPadding": 20, "labelOffset": 3}
}
}
